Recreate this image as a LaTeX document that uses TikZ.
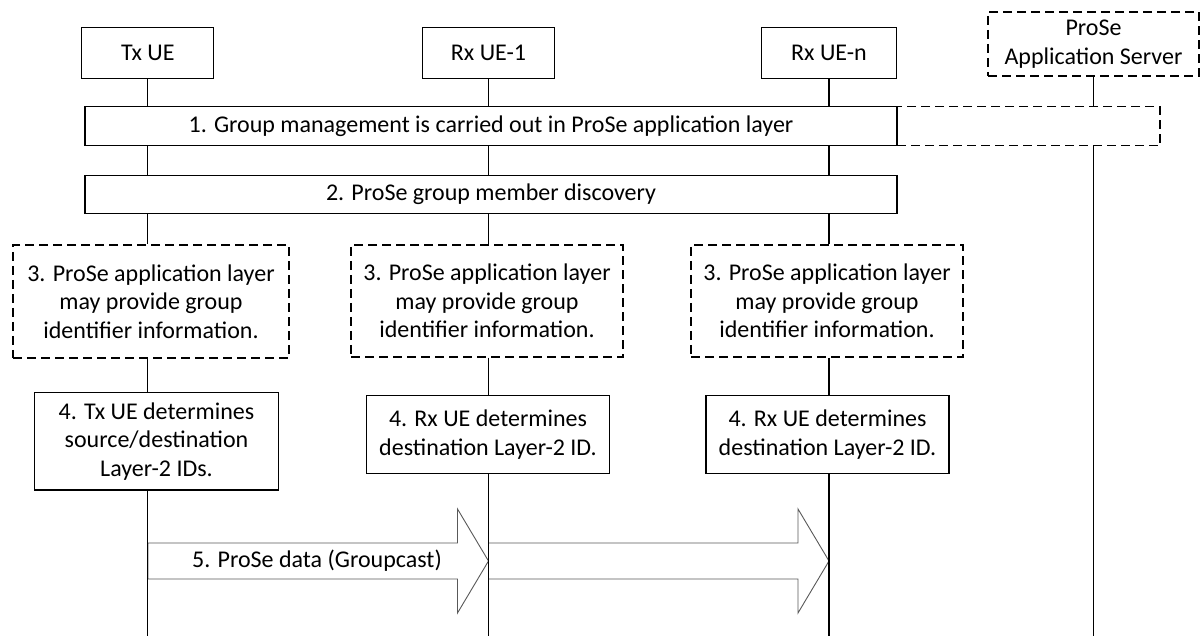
\documentclass[tikz,border=0pt]{standalone}
\usepackage{fontspec}
\setmainfont{Carlito}
\usetikzlibrary{positioning,calc}

\tikzset{
	every node/.style={font=\fontsize{24}{28.5}\selectfont},
	entity/.style={draw, line width=1.2pt, inner sep=0pt, align=center},
	stepbox/.style={draw, line width=1.2pt, inner sep=0pt, align=center},
	optional/.style={dash pattern=on 9pt off 5pt},
	lifeline/.style={line width=1.1pt},
	databar/.style={draw=black!65, fill=white, line width=0.9pt}
}

\begin{document}
\begin{tikzpicture}[x=1pt, y=-1pt]
	\useasboundingbox (0,0) rectangle (1202,636);

	% Define nodes
	\node[entity, minimum width=132pt, minimum height=51.5pt] (tx)  at (147.8,53) {Tx UE};
	\node[entity, minimum width=131.5pt, minimum height=51.5pt] (rx1) at (488.5,53) {Rx UE-1};
	\node[entity, minimum width=135pt, minimum height=51.5pt] (rxn) at (829,53) {Rx UE-n};
	\node[entity, optional, minimum width=211pt, minimum height=64pt] (as) at (1093.5,44) {ProSe\\Application Server};

	\node[stepbox, optional, minimum width=263pt, minimum height=39pt] (appext) at (1028.5,126.2) {};
	\node[stepbox, minimum width=812pt, minimum height=39pt] (grp) at (491,126.2)
		{1. Group management is carried out in ProSe application layer};
	\node[stepbox, minimum width=812pt, minimum height=38pt] (disc) at (491,194.2)
		{2. ProSe group member discovery};

	\node[stepbox, optional, minimum width=276pt, minimum height=113pt] (apltx) at (151,301.5)
		{3. ProSe application layer\\may provide group\\identifier information.};
	\node[stepbox, optional, minimum width=272pt, minimum height=112pt] (aplrx1) at (487,301)
		{3. ProSe application layer\\may provide group\\identifier information.};
	\node[stepbox, optional, minimum width=272pt, minimum height=112pt] (aplrxn) at (827,301)
		{3. ProSe application layer\\may provide group\\identifier information.};

	\node[stepbox, minimum width=244pt, minimum height=97.7pt] (dettx) at (156.5,441.2)
		{4. Tx UE determines\\source/destination\\Layer-2 IDs.};
	\node[stepbox, minimum width=242.5pt, minimum height=77.6pt] (detrx1) at (488,434.5)
		{4. Rx UE determines\\destination Layer-2 ID.};
	\node[stepbox, minimum width=243pt, minimum height=77.6pt] (detrxn) at (827.5,434.5)
		{4. Rx UE determines\\destination Layer-2 ID.};

	\coordinate (d0) at (tx |- 0,561);
	\coordinate (d1) at (rx1 |- 0,561);
	\coordinate (d2) at (rxn |- 0,561);
	\coordinate (bottom) at (0,636);

	% Data arrows
	\foreach \s/\t in {d0/d1, d1/d2}
		\draw[databar] ($(\s)+(0,-18)$) -- ($(\t)+(-31,-18)$) -- ($(\t)+(-31,-52)$) -- (\t)
			-- ($(\t)+(-31,52)$) -- ($(\t)+(-31,18)$) -- ($(\s)+(0,18)$) -- cycle;
	\node (data) at (317,561) {5. ProSe data (Groupcast)};

	% Connect the nodes
	\foreach \e/\a/\b in {tx/apltx/dettx, rx1/aplrx1/detrx1, rxn/aplrxn/detrxn} {
		\draw[lifeline] (\e) -- (\e |- grp.north);
		\draw[lifeline] (\e |- grp.south) -- (\e |- disc.north);
		\draw[lifeline] (\e |- disc.south) -- (\e |- \a.north);
		\draw[lifeline] (\e |- \a.south) -- (\e |- \b.north);
		\draw[lifeline] (\e |- \b.south) -- (\e |- bottom);
	}
	\draw[lifeline] (as) -- (as |- appext.north);
	\draw[lifeline] (as |- appext.south) -- (as |- bottom);
\end{tikzpicture}
\end{document}
